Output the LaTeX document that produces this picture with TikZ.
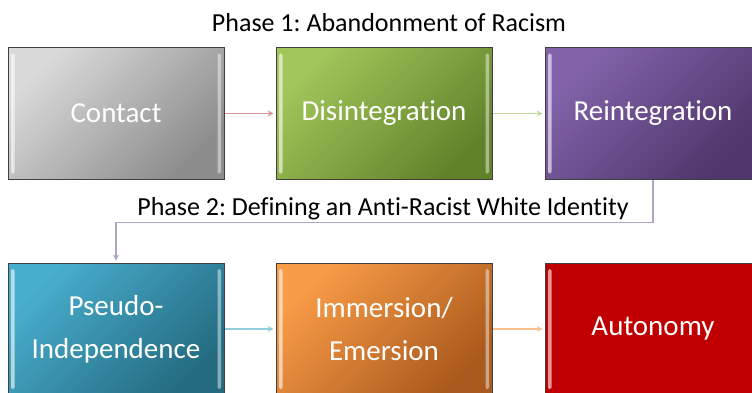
\documentclass[tikz,border=0pt]{standalone}
\usepackage{fontspec}
\setmainfont{Carlito}[Ligatures={NoCommon}]
\frenchspacing
\usetikzlibrary{arrows.meta}
\definecolor{arrred}{HTML}{D99694}
\definecolor{arrgreen}{HTML}{C3D69B}
\definecolor{arrpurple}{HTML}{B3A2C7}
\definecolor{arrblue}{HTML}{93CDDD}
\definecolor{arrorange}{HTML}{FAC090}
\definecolor{grayA}{HTML}{DADADA}
\definecolor{grayB}{HTML}{8C8C8C}
\definecolor{greenA}{HTML}{A2C65A}
\definecolor{greenB}{HTML}{62822A}
\definecolor{purpA}{HTML}{8263AA}
\definecolor{purpB}{HTML}{4F356A}
\definecolor{tealA}{HTML}{48AECE}
\definecolor{tealB}{HTML}{246B80}
\definecolor{orangeA}{HTML}{F99C48}
\definecolor{orangeB}{HTML}{AA5A1C}
\definecolor{redA}{HTML}{C00000}
\tikzset{
  stagebox/.style={draw=black!75, line width=0.9pt, minimum width=216pt, minimum height=132pt,
    inner sep=0pt, text=white, align=center, font=\fontsize{29}{43}\selectfont,
    path picture={
      \fill[white,opacity=0.6,rounded corners=1.5pt] ([xshift=3pt,yshift=-6pt]path picture bounding box.north west) rectangle ([xshift=6.5pt,yshift=6pt]path picture bounding box.south west);
      \fill[white,opacity=0.45,rounded corners=1.5pt] ([xshift=-6.5pt,yshift=-6pt]path picture bounding box.north east) rectangle ([xshift=-3pt,yshift=6pt]path picture bounding box.south east);
    }},
  grad/.style n args={2}{top color=#1, bottom color=#2, shading angle=45},
  flow/.style={line width=1.6pt, -{Stealth[length=6pt,width=6pt]}, shorten >=2pt, shorten <=1pt},
  phase/.style={font=\fontsize{26}{30}\selectfont, text=black, anchor=base, inner sep=0pt}
}
\begin{document}
\begin{tikzpicture}[x=1pt,y=-1pt]
\useasboundingbox (0,0) rectangle (752,392);
\node[phase] (p1) at (389,31) {Phase 1: Abandonment of Racism};
\node[stagebox, grad={grayA}{grayB}] (contact) at (116,113.5) {Contact};
\node[stagebox, grad={greenA}{greenB}] (disint) at (384,113.5) {Disintegration};
\node[stagebox, grad={purpA}{purpB}] (reint) at (653,113.5) {Reintegration};
\node[stagebox, grad={tealA}{tealB}] (pseudo) at (116,329) {Pseudo-\\Independence};
\node[stagebox, grad={orangeA}{orangeB}] (immer) at (384,329) {Immersion/\\Emersion};
\node[stagebox, fill=redA] (auto) at (653,329) {Autonomy};
\node[phase] (p2) at (383,215) {Phase 2: Defining an Anti-Racist White Identity};
\draw[flow, arrred] (contact) -- (disint);
\draw[flow, arrgreen] (disint) -- (reint);
\draw[flow, arrblue] (pseudo) -- (immer);
\draw[flow, arrorange] (immer) -- (auto);
\draw[flow, arrpurple, line width=1.4pt, shorten <=0pt] (reint.south) -- ++(0,42.5) -| (pseudo.north);
\end{tikzpicture}
\end{document}
